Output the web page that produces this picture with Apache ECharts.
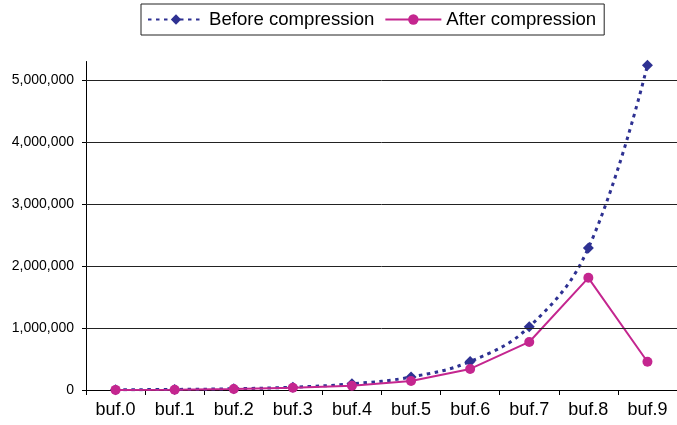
<!DOCTYPE html>
<html>
<head>
<meta charset="utf-8">
<script src="https://cdn.jsdelivr.net/npm/echarts@6/dist/echarts.min.js"></script>
<style>
html,body{margin:0;padding:0;background:#fff;}
#c{width:677px;height:425px;}
</style>
</head>
<body>
<div id="c"></div>
<script>
var categories = ['buf.0','buf.1','buf.2','buf.3','buf.4','buf.5','buf.6','buf.7','buf.8','buf.9'];
var beforeValues = [4000, 9000, 20000, 45000, 100000, 210000, 460000, 1020000, 2290000, 5240000];
var afterValues = [2000, 5000, 15000, 35000, 70000, 145000, 340000, 775000, 1810000, 455000];
var yTicks = [0, 1000000, 2000000, 3000000, 4000000, 5000000];
var yMax = 5300000;
var seriesNames = ['Before compression', 'After compression'];

function fmt(v) {
  return String(Math.round(v)).replace(/\B(?=(\d{3})+(?!\d))/g, ',');
}

var FONT = "'Liberation Sans', Arial, sans-serif";
var chart = echarts.init(document.getElementById('c'), null, {renderer: 'canvas'});
chart.setOption({
  animation: false,
  backgroundColor: '#fff',
  textStyle: {fontFamily: FONT},
  legend: {
    left: 141, top: 4,
    padding: [6, 8, 6, 6],
    borderColor: '#222', borderWidth: 1,
    itemWidth: 56, itemHeight: 13, itemGap: 10,
    textStyle: {fontFamily: FONT, fontSize: 18.6, color: '#000'},
    data: seriesNames
  },
  grid: {left: 86, right: -3.5, top: 61.5, bottom: 35, containLabel: false},
  xAxis: {
    type: 'category',
    data: categories,
    boundaryGap: true,
    axisLine: {lineStyle: {color: '#000', width: 1}},
    axisTick: {show: true, alignWithLabel: false, length: 5, lineStyle: {color: '#000'}},
    axisLabel: {fontFamily: FONT, fontSize: 18, color: '#000', margin: 11, interval: 0},
    splitLine: {show: false}
  },
  yAxis: {
    type: 'value',
    min: 0, max: yMax, interval: 1000000,
    axisLine: {show: true, lineStyle: {color: '#000', width: 1}},
    axisTick: {show: true, length: 4, lineStyle: {color: '#000'}, customValues: yTicks},
    axisLabel: {fontFamily: FONT, fontSize: 14, color: '#000', margin: 12, customValues: yTicks, formatter: fmt},
    splitLine: {show: false}
  },
  series: [
    {
      name: seriesNames[0],
      type: 'line',
      data: beforeValues,
      smooth: 0.4,
      symbol: 'diamond',
      symbolSize: 11,
      itemStyle: {color: '#2E3192'},
      lineStyle: {color: '#2E3192', width: 3, type: [3.5, 4.5]},
      z: 2,
      markLine: {
        silent: true,
        symbol: ['none', 'none'],
        label: {show: false},
        lineStyle: {color: '#222', width: 1, type: 'solid'},
        data: yTicks.slice(1).map(function (v) { return {yAxis: v}; })
      }
    },
    {
      name: seriesNames[1],
      type: 'line',
      data: afterValues,
      symbol: 'circle',
      symbolSize: 10,
      itemStyle: {color: '#C4268F'},
      lineStyle: {color: '#C4268F', width: 2},
      z: 3
    }
  ]
});
</script>
</body>
</html>
